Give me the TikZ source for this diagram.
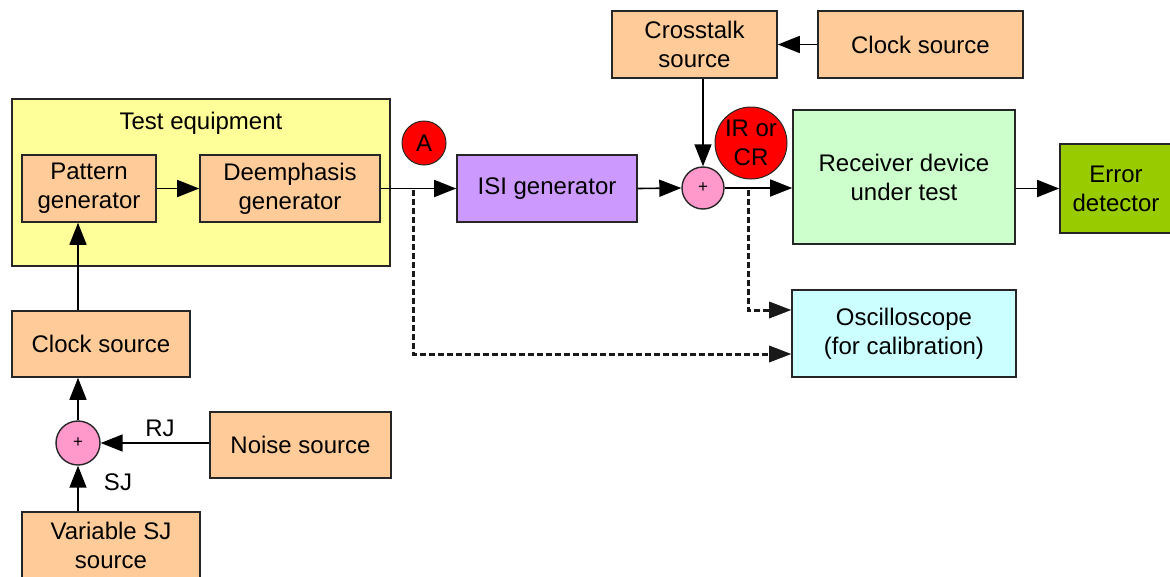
\documentclass[tikz,border=0pt]{standalone}
\usepackage{fontspec}
\setmainfont{Liberation Sans}
\usetikzlibrary{arrows.meta}
\definecolor{orng}{HTML}{FFCC99}
\definecolor{ylw}{HTML}{FFFF99}
\definecolor{prpl}{HTML}{CC99FF}
\definecolor{pnk}{HTML}{FF99CC}
\definecolor{grn}{HTML}{CCFFCC}
\definecolor{cyn}{HTML}{CCFFFF}
\definecolor{lime}{HTML}{99CC00}
\definecolor{rd}{HTML}{FF0000}
\tikzset{
  txt/.style={font=\fontsize{24}{29}\selectfont, align=center, text=black},
  box/.style={txt, draw=black!85, line width=1.6pt, rectangle, inner sep=0pt},
  orbox/.style={box, fill=orng},
  sumc/.style={circle, draw=black!85, line width=1.4pt, fill=pnk, minimum size=42pt, inner sep=0pt, font=\fontsize{17}{18}\selectfont},
  redc/.style={circle, draw=black!85, line width=1pt, fill=rd, inner sep=0pt, txt},
  tip/.style={-{Triangle[length=22pt,width=17pt]}},
  arr/.style={line width=1.6pt, draw=black, tip},
  dsh/.style={line width=3pt, draw=black!90, dash pattern=on 6pt off 3pt, -{Triangle[length=22pt,width=17pt,line width=0pt]}},
}
\begin{document}
\begin{tikzpicture}[x=1pt,y=-1pt]
\useasboundingbox (0,0) rectangle (1170,576);
% test equipment
\node[box, fill=ylw, minimum width=378pt, minimum height=167pt] (te) at (201,182.5) {};
\node[txt] (tel) at (201,123) {Test equipment};
\node[orbox, minimum width=134pt, minimum height=67pt] (pg) at (89,188.5) {Pattern\\generator};
\node[orbox, minimum width=180pt, minimum height=67pt] (dg) at (290,188.5) {Deemphasis\\generator};
\node[redc, minimum size=44pt] (A) at (424,143) {A};
\node[box, fill=prpl, minimum width=180pt, minimum height=67pt] (isi) at (547,188.5) {ISI generator};
\node[sumc] (p1) at (703,188) {+};
\node[redc, minimum size=72pt] (ir) at (751,143) {IR or\\CR};
\node[box, fill=grn, minimum width=222pt, minimum height=134pt] (rx) at (904,177) {Receiver device\\under test};
\node[box, fill=cyn, minimum width=224pt, minimum height=87pt] (osc) at (904,333.5) {Oscilloscope\\(for calibration)};
\node[box, fill=lime, minimum width=112pt, minimum height=89pt] (err) at (1116,188.5) {Error\\detector};
\node[orbox, minimum width=165pt, minimum height=67pt] (xt) at (694.5,44.5) {Crosstalk\\source};
\node[orbox, minimum width=205pt, minimum height=67pt] (ck2) at (920.5,44.5) {Clock source};
\node[orbox, minimum width=178pt, minimum height=66pt] (ck1) at (101,344) {Clock source};
\node[sumc, minimum size=44pt] (p2) at (78,443) {+};
\node[orbox, minimum width=181pt, minimum height=66pt] (ns) at (300.5,445) {Noise source};
\node[orbox, minimum width=178pt, minimum height=66pt] (vsj) at (111,545) {Variable SJ\\source};
\node[txt] (rj) at (160,428) {RJ};
\node[txt] (sj) at (118,482) {SJ};
% connectors
\draw[arr] (pg) -- (dg);
\draw[arr] (dg.east) -- (isi.west);
\draw[arr] (isi.east) -- (p1.west);
\draw[arr] (p1.east) -- (rx.west |- p1.east);
\draw[arr] (rx.east |- err.west) -- (err.west);
\draw[arr] (ck2.west) -- (xt.east);
\draw[arr] (xt.south -| p1.north) -- (p1.north);
\draw[arr] (ck1.north -| 78,0) -- (pg.south -| 78,0);
\draw[arr] (p2.north) -- (ck1.south -| p2.north);
\draw[arr] (ns.west |- p2.east) -- (p2.east);
\draw[arr] (vsj.north -| p2.south) -- (p2.south);
\coordinate (d1) at (413,190);
\coordinate (d1c) at (413,354);
\coordinate (d2) at (748,190);
\coordinate (d2c) at (748,310);
\draw[dsh] (d1) -- (d1c) -- (osc.west |- d1c);
\draw[dsh] (d2) -- (d2c) -- (osc.west |- d2c);
\end{tikzpicture}
\end{document}
